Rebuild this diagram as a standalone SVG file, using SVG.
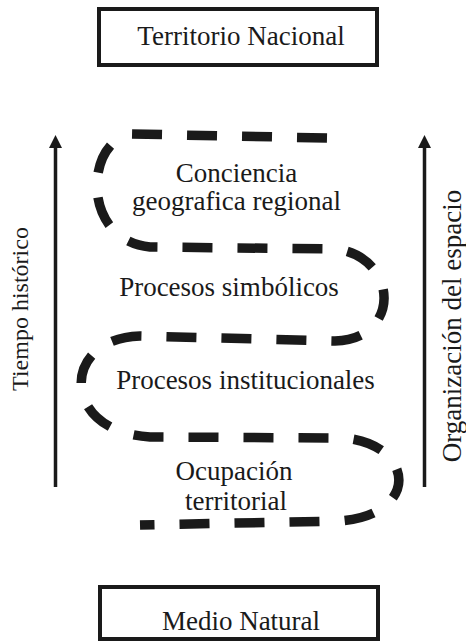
<svg xmlns="http://www.w3.org/2000/svg" width="466" height="643" viewBox="0 0 466 643">
  <style>
    .box { fill: #fff; stroke: #1a1a1a; stroke-width: 4; }
    .lbl { font-family: "Liberation Serif", "Times New Roman", serif; font-size: 27px; fill: #1a1a1a; text-anchor: middle; }
    .axis { stroke: #1a1a1a; stroke-width: 3.5; fill: none; }
    .head { fill: #1a1a1a; }
    .path { fill: none; stroke: #1a1a1a; stroke-width: 9.5; stroke-dasharray: 30 25; }
  </style>
  <rect width="466" height="643" fill="#fff"/>

  <g id="territorio-nacional">
    <rect class="box" x="99" y="9" width="278" height="56"/>
    <text class="lbl" x="241" y="45">Territorio Nacional</text>
  </g>

  <g id="medio-natural">
    <rect class="box" x="100" y="587" width="278" height="52"/>
    <text class="lbl" x="241" y="630">Medio Natural</text>
  </g>

  <g id="tiempo-historico">
    <line class="axis" x1="55.5" y1="487" x2="55.5" y2="145"/>
    <polygon class="head" points="55.5,135 49,148 62,148"/>
    <text class="lbl" style="font-size:24px" transform="translate(28,309) rotate(-90)">Tiempo histórico</text>
  </g>

  <g id="organizacion-espacio">
    <line class="axis" x1="424.5" y1="487" x2="424.5" y2="145"/>
    <polygon class="head" points="424.5,135 418,148 431,148"/>
    <text class="lbl" transform="translate(461,326) rotate(-90)">Organización del espacio</text>
  </g>

  <g id="connectors">
    <path class="path" d="M327,138 L132,134 C85,140 80,240 150,247 L337,249 C400,259 400,340 335,341 L140,336 C60,338 60,432 150,437 L345,438 C415,445 420,515 340,521 L140,525"/>
  </g>

  <g id="conciencia">
    <text class="lbl" x="236.5" y="182">Conciencia</text>
    <text class="lbl" x="236.5" y="210">geografica regional</text>
  </g>
  <g id="simbolicos">
    <text class="lbl" x="229" y="296">Procesos simbólicos</text>
  </g>
  <g id="institucionales">
    <text class="lbl" x="245.5" y="389">Procesos institucionales</text>
  </g>
  <g id="ocupacion">
    <text class="lbl" x="234" y="480">Ocupación</text>
    <text class="lbl" x="236" y="510">territorial</text>
  </g>
</svg>
